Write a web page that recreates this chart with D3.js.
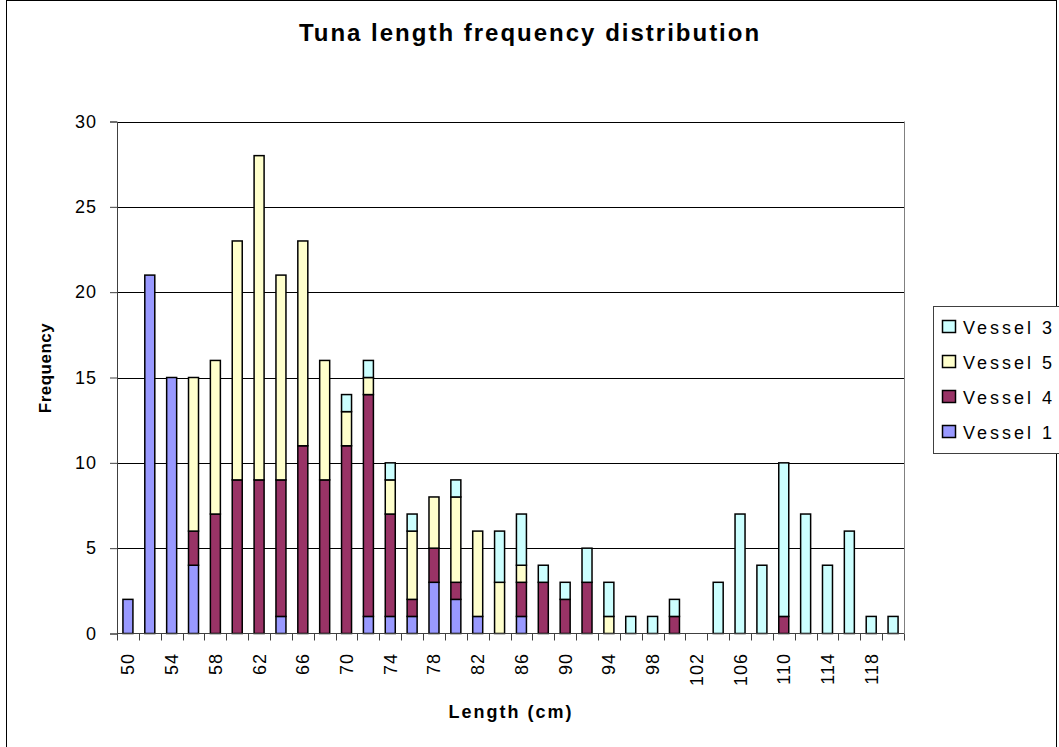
<!DOCTYPE html>
<html><head><meta charset="utf-8">
<script src="https://cdn.jsdelivr.net/npm/d3@7"></script>
<style>
html,body{margin:0;padding:0;background:#fff;}
svg{display:block;font-family:"Liberation Sans",Arial,sans-serif;}
</style></head>
<body>
<svg id="chart" width="1059" height="747"></svg>
<script>
const lengths = [50,52,54,56,58,60,62,64,66,68,70,72,74,76,78,80,82,84,86,88,90,92,94,96,98,100,102,104,106,108,110,112,114,116,118,120];
const vessel1 = [2,21,15,4,0,0,0,1,0,0,0,1,1,1,3,2,1,0,1,0,0,0,0,0,0,0,0,0,0,0,0,0,0,0,0,0];
const vessel4 = [0,0,0,2,7,9,9,8,11,9,11,13,6,1,2,1,0,0,2,3,2,3,0,0,0,1,0,0,0,0,1,0,0,0,0,0];
const vessel5 = [0,0,0,9,9,14,19,12,12,7,2,1,2,4,3,5,5,3,1,0,0,0,1,0,0,0,0,0,0,0,0,0,0,0,0,0];
const vessel3 = [0,0,0,0,0,0,0,0,0,0,1,1,1,1,0,1,0,3,3,1,1,2,2,1,1,1,0,3,7,4,9,7,4,6,1,1];
const seriesNames = ["Vessel 1","Vessel 4","Vessel 5","Vessel 3"];
const seriesValues = [vessel1, vessel4, vessel5, vessel3];
const seriesColors = ["#9999FF","#993366","#FFFFCC","#CCFFFF"];
const yTicks = [0,5,10,15,20,25,30];
const xTickLabels = lengths.filter((d,i)=>i%2===0);

const svg = d3.select("#chart");
const L = 117, R = 904, T = 121.5, B = 633.5;

// outer border
svg.append("rect").attr("x",6.5).attr("y",0.5).attr("width",1050).attr("height",800)
  .attr("fill","#fff").attr("stroke","#000").attr("stroke-width",1);

const x = d3.scaleBand().domain(lengths).range([L, R]);
const y = d3.scaleLinear().domain([0,30]).range([B, T]);

// gridlines
svg.append("g").selectAll("line").data(yTicks.filter(d=>d>0)).join("line")
  .attr("x1",L).attr("x2",R).attr("y1",d=>Math.round(y(d))+0.5).attr("y2",d=>Math.round(y(d))+0.5)
  .attr("stroke","#000").attr("stroke-width",1);
// plot area right border
svg.append("line").attr("x1",R+0.5).attr("x2",R+0.5).attr("y1",T).attr("y2",B)
  .attr("stroke","#808080");

// stacked data
const table = lengths.map((len,i)=>{
  const o = {len};
  seriesNames.forEach((s,k)=>o[s]=seriesValues[k][i]);
  return o;
});
const stack = d3.stack().keys(seriesNames)(table);
const barW = 10;
svg.append("g").selectAll("g").data(stack).join("g")
  .attr("fill",(d,i)=>seriesColors[i])
  .selectAll("rect").data(d=>d.filter(p=>p[1]-p[0]>0)).join("rect")
  .attr("x",d=>x(d.data.len)+(x.bandwidth()-barW)/2)
  .attr("width",barW)
  .attr("y",d=>y(d[1]))
  .attr("height",d=>y(d[0])-y(d[1]))
  .attr("stroke","#000").attr("stroke-width",1.5);

// y axis
const yAxis = d3.axisLeft(y).tickValues(yTicks).tickSize(7).tickPadding(13);
const gy = svg.append("g").attr("transform",`translate(${L},0)`).call(yAxis);
gy.select(".domain").attr("stroke","#404040");
gy.selectAll(".tick line").attr("stroke","#404040");
gy.selectAll("text").attr("font-size",18).attr("fill","#000")
  .attr("font-family","Liberation Sans, Arial, sans-serif").style("letter-spacing","1px");

// x axis baseline and boundary ticks
svg.append("line").attr("x1",L).attr("x2",R).attr("y1",B).attr("y2",B).attr("stroke","#404040");
const bounds = lengths.map(d=>x(d)).concat([R]);
svg.append("g").selectAll("line").data(bounds).join("line")
  .attr("x1",d=>Math.round(d)+0.5).attr("x2",d=>Math.round(d)+0.5)
  .attr("y1",B).attr("y2",B+7).attr("stroke","#404040");
// x tick labels
svg.append("g").selectAll("text").data(xTickLabels).join("text")
  .attr("transform",d=>{const cx=x(d)+x.bandwidth()/2+6.5; return `translate(${cx},653) rotate(-90)`;})
  .attr("text-anchor","end").attr("font-size",18).style("letter-spacing","1px")
  .text(d=>d);

// title
svg.append("text").attr("x",530).attr("y",41).attr("text-anchor","middle")
  .attr("font-size",24).attr("font-weight","bold").style("letter-spacing","2px")
  .text("Tuna length frequency distribution");
// axis titles
svg.append("text").attr("x",511).attr("y",718).attr("text-anchor","middle")
  .attr("font-size",18).attr("font-weight","bold").style("letter-spacing","2px")
  .text("Length (cm)");
svg.append("text").attr("transform","translate(51,368) rotate(-90)").attr("text-anchor","middle")
  .attr("font-size",17).attr("font-weight","bold").style("letter-spacing","0.5px")
  .text("Frequency");

// legend
const lg = svg.append("g");
lg.append("rect").attr("x",933.5).attr("y",306.5).attr("width",200).attr("height",147)
  .attr("fill","#fff").attr("stroke","#404040");
const legendOrder = [3,2,1,0];
const li = lg.selectAll("g").data(legendOrder).join("g")
  .attr("transform",(d,i)=>`translate(0,${327+i*35})`);
li.append("rect").attr("x",942.5).attr("y",-6.5).attr("width",13).attr("height",12)
  .attr("fill",d=>seriesColors[d]).attr("stroke","#000").attr("stroke-width",1.5);
li.append("text").attr("x",963).attr("y",6.5).attr("font-size",18).style("letter-spacing","3px")
  .text(d=>seriesNames[d]);
</script>
</body></html>
